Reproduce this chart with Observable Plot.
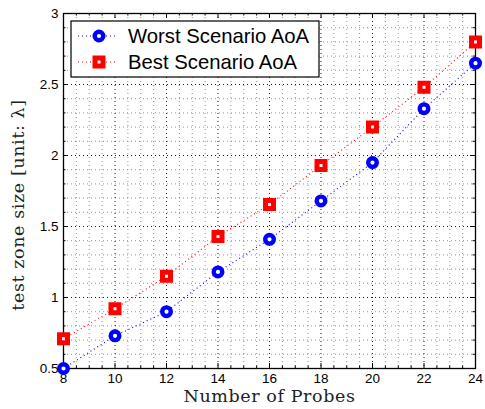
<!DOCTYPE html>
<html><head><meta charset="utf-8">
<script src="https://cdn.jsdelivr.net/npm/d3@7"></script>
<script src="https://cdn.jsdelivr.net/npm/@observablehq/plot@0.6"></script>
<style>body{margin:0;background:#fff}</style>
</head><body><div id="chart"></div>
<script>
const probes = [8, 10, 12, 14, 16, 18, 20, 22, 24];
const worstAoA = [0.5, 0.73, 0.9, 1.18, 1.41, 1.68, 1.95, 2.33, 2.65];
const bestAoA = [0.71, 0.92, 1.15, 1.43, 1.655, 1.93, 2.2, 2.48, 2.8];
const seriesNames = ["Worst Scenario AoA", "Best Scenario AoA"];
const seriesColors = ["#0000ff", "#ff0000"];
const xTicks = [8, 10, 12, 14, 16, 18, 20, 22, 24];
const yTicks = [0.5, 1, 1.5, 2, 2.5, 3];
const xLabel = "Number of Probes";
const yLabel = "test zone size [unit: λ]";

const xMinor = d3.range(8, 24.001, 0.5).filter(v => !xTicks.includes(v));
const yMinor = d3.range(0.5, 3.001, 0.1).map(v => +v.toFixed(2)).filter(v => !yTicks.includes(v));

const worst = probes.map((p, i) => ({p, v: worstAoA[i]}));
const best = probes.map((p, i) => ({p, v: bestAoA[i]}));

const H = 409 - 13 - 41, W = 485 - 63 - 10;
const tickFont = "Liberation Sans, Arial, sans-serif";

const chart = Plot.plot({
  width: 485, height: 409,
  marginLeft: 63, marginRight: 10, marginTop: 13, marginBottom: 41,
  x: {type: "linear", domain: [8, 24]},
  y: {type: "linear", domain: [0.5, 3]},
  style: {background: "#fff", color: "#000"},
  marks: [
    Plot.ruleX(xMinor, {x: d => d, stroke: "#777", strokeWidth: 0.8, strokeDasharray: "1,3"}),
    Plot.ruleY(yMinor, {y: d => d, stroke: "#777", strokeWidth: 0.8, strokeDasharray: "1,3"}),
    Plot.ruleX(xTicks, {x: d => d, stroke: "#000", strokeWidth: 0.9, strokeDasharray: "1,3"}),
    Plot.ruleY(yTicks, {y: d => d, stroke: "#000", strokeWidth: 0.9, strokeDasharray: "1,3"}),
    Plot.tickX(xTicks, {x: d => d, insetTop: H - 5, stroke: "#000"}),
    Plot.tickX(xTicks, {x: d => d, insetBottom: H - 5, stroke: "#000"}),
    Plot.tickY(yTicks, {y: d => d, insetRight: W - 5, stroke: "#000"}),
    Plot.tickY(yTicks, {y: d => d, insetLeft: W - 5, stroke: "#000"}),
    Plot.tickX(xMinor, {x: d => d, insetTop: H - 2.5, stroke: "#000"}),
    Plot.tickX(xMinor, {x: d => d, insetBottom: H - 2.5, stroke: "#000"}),
    Plot.tickY(yMinor, {y: d => d, insetRight: W - 2.5, stroke: "#000"}),
    Plot.tickY(yMinor, {y: d => d, insetLeft: W - 2.5, stroke: "#000"}),
    Plot.frame({stroke: "#000", strokeWidth: 1.3}),
    Plot.axisX({ticks: xTicks, tickSize: 0, tickPadding: 5, tickFormat: d => String(d), fontSize: 13.5, fontFamily: tickFont, label: null}),
    Plot.axisY({ticks: yTicks, tickSize: 0, tickPadding: 5, tickFormat: d => String(d), fontSize: 13.5, fontFamily: tickFont, label: null}),
    Plot.line(worst, {x: "p", y: "v", stroke: seriesColors[0], strokeWidth: 1.1, strokeDasharray: "1,3", strokeLinecap: "butt"}),
    Plot.line(best, {x: "p", y: "v", stroke: seriesColors[1], strokeWidth: 1.1, strokeDasharray: "1,3", strokeLinecap: "butt"}),
    Plot.dot(worst, {x: "p", y: "v", r: 4.3, fill: "#fff", stroke: seriesColors[0], strokeWidth: 4.4}),
    Plot.dot(best, {x: "p", y: "v", r: 4.5, symbol: "square", fill: "#fff", stroke: seriesColors[1], strokeWidth: 5}),
    Plot.text([xLabel], {frameAnchor: "bottom", dy: 33, textAnchor: "middle", fontFamily: "DejaVu Serif", fontSize: 17.5, fill: "#222"}),
    Plot.text([yLabel], {frameAnchor: "left", dx: -45, dy: 14, rotate: -90, textAnchor: "middle", fontFamily: "DejaVu Serif", fontSize: 17.5, fill: "#222"})
  ]
});

const svg = d3.select(chart);
svg.selectAll("text").filter(function() { return this.textContent === xLabel || this.textContent === yLabel; })
  .attr("letter-spacing", "0.6px");

// Legend box (layout only)
const lg = svg.append("g").attr("transform", "translate(71,21)");
lg.append("rect").attr("width", 248).attr("height", 56).attr("fill", "#fff").attr("stroke", "#000").attr("stroke-width", 1.2);
seriesNames.forEach((name, i) => {
  const cy = 15 + i * 26;
  lg.append("line").attr("x1", 7).attr("x2", 47).attr("y1", cy).attr("y2", cy)
    .attr("stroke", seriesColors[i]).attr("stroke-width", 1.1).attr("stroke-dasharray", "1,3");
  if (i === 0) {
    lg.append("circle").attr("cx", 28).attr("cy", cy).attr("r", 4.3).attr("fill", "#fff")
      .attr("stroke", seriesColors[i]).attr("stroke-width", 4.4);
  } else {
    lg.append("rect").attr("x", 28 - 4).attr("y", cy - 4).attr("width", 8).attr("height", 8).attr("fill", "#fff")
      .attr("stroke", seriesColors[i]).attr("stroke-width", 5);
  }
  lg.append("text").attr("x", 57).attr("y", cy).attr("dy", "0.36em").attr("text-anchor", "start")
    .attr("font-family", tickFont).attr("font-size", 20.3).attr("fill", "#000").text(name);
});

document.getElementById("chart").appendChild(chart);
</script>
</body></html>
